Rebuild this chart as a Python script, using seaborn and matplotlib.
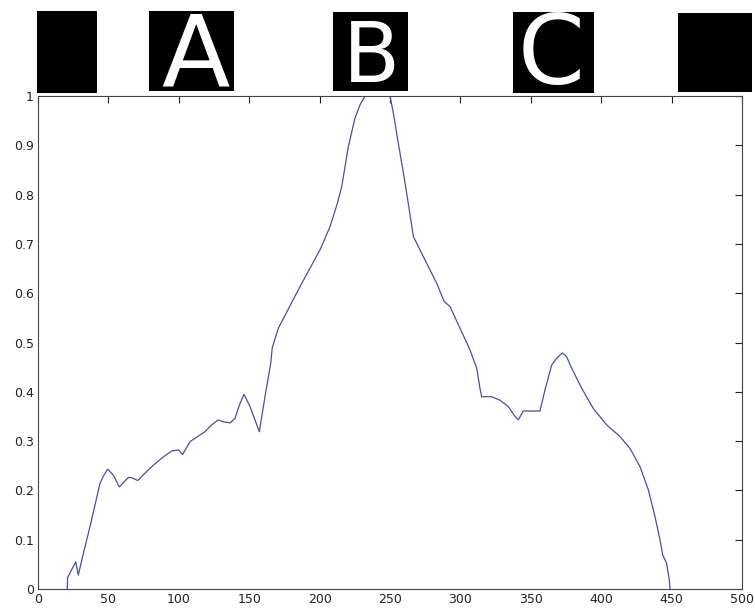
import matplotlib
matplotlib.use('Agg')
import matplotlib.pyplot as plt
import seaborn as sns
import pandas as pd
from matplotlib.patches import Rectangle

# curve
pos = [20.8, 21.0, 26.8, 28.6, 32.2, 36.9, 44.0, 46.4, 49.5, 53.5, 57.7, 64.1, 66.5, 70.8,
       76.0, 81.9, 89.0, 95.0, 99.7, 102.7, 108.0, 112.7, 118.6, 123.4, 128.0, 131.6,
       136.4, 139.9, 143.0, 146.3, 150.6, 157.2, 161.2, 165.3, 166.4, 170.7, 186.0,
       200.3, 207.4, 212.6, 215.7, 220.4, 225.1, 228.7, 232.2, 250.0, 252.4, 255.9,
       260.0, 263.7, 266.6, 273.7, 283.2, 288.5, 292.6, 299.7, 306.8, 311.6, 313.9,
       315.1, 322.2, 328.1, 334.0, 338.8, 341.1, 344.7, 356.5, 360.1, 364.8, 368.4,
       372.4, 375.5, 379.0, 386.2, 394.4, 403.9, 413.4, 420.5, 427.6, 433.5, 438.2,
       441.8, 443.7, 446.5, 448.4, 448.9]
val = [0.0, 0.023, 0.055, 0.028, 0.072, 0.126, 0.214, 0.229, 0.243, 0.231, 0.207, 0.226,
       0.226, 0.220, 0.235, 0.251, 0.268, 0.280, 0.282, 0.273, 0.299, 0.308, 0.319,
       0.333, 0.343, 0.339, 0.337, 0.346, 0.373, 0.395, 0.370, 0.319, 0.390, 0.458,
       0.490, 0.529, 0.613, 0.688, 0.735, 0.782, 0.816, 0.897, 0.955, 0.982, 1.0, 1.0,
       0.965, 0.904, 0.836, 0.769, 0.715, 0.674, 0.620, 0.583, 0.573, 0.529, 0.485,
       0.448, 0.407, 0.390, 0.390, 0.383, 0.370, 0.350, 0.343, 0.361, 0.361, 0.404,
       0.454, 0.468, 0.479, 0.471, 0.448, 0.407, 0.366, 0.333, 0.309, 0.285, 0.248,
       0.201, 0.147, 0.099, 0.069, 0.052, 0.018, 0.0]

letters = ['', 'A', 'B', 'C', '']
# black boxes above the plot, in figure pixels (left, right, top, bottom)
box_px = [(37, 97, 11, 93), (149, 234, 11, 91), (333, 408, 12, 91),
          (513, 594, 12, 93), (678, 752, 13, 92)]
# letter centre x, baseline y (pixels from top) and size
letter_x = [0, 195, 371, 551, 0]
letter_base = [0, 86, 82, 84, 0]
letter_size = [0, 72, 60, 69, 0]

sns.set_style('white')
plt.rcParams['font.family'] = ['DejaVu Sans']

df = pd.DataFrame({'x': pos, 'y': val})

W, H = 755, 608
fig = plt.figure(figsize=(W / 100, H / 100), dpi=100)
ax = fig.add_axes([38 / W, 19 / H, 704 / W, 493 / H])

sns.lineplot(data=df, x='x', y='y', ax=ax, color='#4a4fa0', linewidth=0.9,
             sort=False, estimator=None)

ax.set_xlim(0, 500)
ax.set_ylim(0, 1)
ax.set_xticks(range(0, 501, 50))
ax.set_yticks([i / 10 for i in range(11)])
ax.set_yticklabels(['0', '0.1', '0.2', '0.3', '0.4', '0.5', '0.6', '0.7', '0.8', '0.9', '1'])
ax.set_xlabel('')
ax.set_ylabel('')
ax.tick_params(direction='in', top=True, right=True, length=5, width=0.8,
               labelsize=9, pad=3, colors='#222222')
for s in ax.spines.values():
    s.set_color('#444444')
    s.set_linewidth(0.8)

# the black label boxes
for (l, r, t, b), txt, lx, lb, fs in zip(box_px, letters, letter_x, letter_base, letter_size):
    fig.patches.append(Rectangle((l / W, (H - b) / H), (r - l) / W, (b - t) / H,
                                 transform=fig.transFigure, facecolor='black',
                                 edgecolor='none', zorder=1))
    if txt:
        fig.text(lx / W, (H - lb) / H, txt, color='white', fontsize=fs,
                 ha='center', va='baseline', zorder=2)

fig.savefig('out.png', dpi=100)
